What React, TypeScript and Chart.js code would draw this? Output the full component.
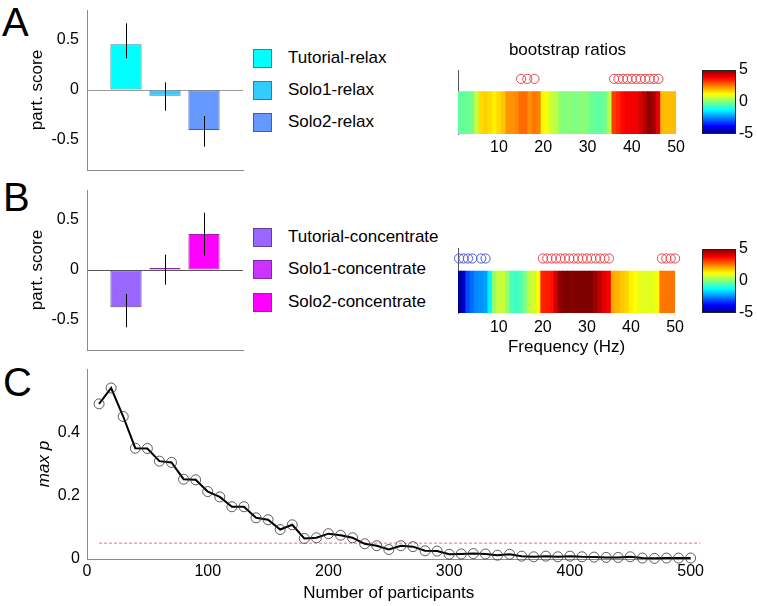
import React, { useEffect, useRef } from 'react';
import { Chart, registerables } from 'chart.js';

Chart.register(...registerables);

const FONT = 'Arial, "Liberation Sans", Helvetica, sans-serif';
Chart.defaults.font.family = FONT;
Chart.defaults.color = '#000';

// ---------- Panel A / B : participant scores ----------
const barPositions = [1, 2, 3];
const scoreTicks = [-0.5, 0, 0.5];

const relaxLabels = ['Tutorial-relax', 'Solo1-relax', 'Solo2-relax'];
const relaxScores = [0.457, -0.057, -0.4];
const relaxErrLow = [0.317, -0.207, -0.567];
const relaxErrHigh = [0.667, 0.077, -0.26];
const relaxColors = ['#00FFFF', '#33CCFF', '#6699FF'];
const relaxBorders = ['#1F8F8F', '#2C7FA3', '#3F5F9F'];

const concLabels = ['Tutorial-concentrate', 'Solo1-concentrate', 'Solo2-concentrate'];
const concScores = [-0.373, 0.02, 0.36];
const concErrLow = [-0.573, -0.147, 0.143];
const concErrHigh = [-0.24, 0.153, 0.573];
const concColors = ['#9966FF', '#CC33FF', '#FF00FF'];
const concBorders = ['#5F3FA0', '#7F2A9F', '#A0209F'];

// ---------- bootstrap ratios ----------
const freqs = [
  1, 2, 3, 4, 5, 6, 7, 8, 9, 10, 11, 12, 13, 14, 15, 16, 17, 18, 19, 20, 21, 22, 23, 24, 25,
  26, 27, 28, 29, 30, 31, 32, 33, 34, 35, 36, 37, 38, 39, 40, 41, 42, 43, 44, 45, 46, 47, 48, 49, 50,
];
const relaxRatios = [
  -0.3, -0.3, -0.2, -0.1, 0.7, 1.6, 1.7, 1.6, 1.4, 1.6, 1.8, 2.3, 2.3, 2.4, 2.7, 2.7, 2.35, 2.6, 2.5, 1.3,
  1.1, 0.7, 0.6, 0.1, 0.0, 0.1, 0.0, 0.0, 0.1, 0.0, -0.2, -0.3, -0.3, -0.1, 0.5, 3.2, 3.4, 3.7, 3.85, 3.9,
  3.9, 4.1, 4.5, 4.9, 4.6, 4.0, 1.9, 1.9, 1.9, 1.9,
];
const concRatios = [
  -4.8, -4.3, -3.0, -2.7, -2.4, -2.3, -2.2, -1.35, 0.2, 0.7, 0.7, 0.2, -0.5, -0.7, -0.5, 0.0, 0.6, 0.8, 1.2, 3.4,
  3.5, 3.6, 4.2, 4.8, 5.0, 5.0, 5.0, 5.0, 5.0, 5.0, 5.0, 4.7, 4.4, 4.0, 3.8, 2.1, 2.0, 1.8, 1.7, 1.4,
  1.25, 1.0, 0.95, 0.95, 1.0, 1.2, 2.6, 2.6, 2.6, 2.6,
];
const relaxSigPos = [15, 16.4, 18, 36, 37, 38, 39, 40, 41, 42, 43, 44, 45, 46];
const concSigNeg = [1, 2, 3, 4, 6, 7];
const concSigPos = [20, 21, 22, 23, 24, 25, 26, 27, 28, 29, 30, 31, 32, 33, 34, 35, 47, 48, 49, 50];
const freqTicks = [10, 20, 30, 40, 50];
const colorbarTicks = [-5, 0, 5];

// ---------- Panel C ----------
const participants = [
  10, 20, 30, 40, 50, 60, 70, 80, 90, 100, 110, 120, 130, 140, 150, 160, 170, 180, 190, 200, 210, 220, 230, 240, 250,
  260, 270, 280, 290, 300, 310, 320, 330, 340, 350, 360, 370, 380, 390, 400, 410, 420, 430, 440, 450, 460, 470, 480, 490, 500,
];
const maxP = [
  0.49, 0.54, 0.45, 0.35, 0.349, 0.309, 0.305, 0.252, 0.25, 0.213, 0.196, 0.165, 0.165, 0.13, 0.124, 0.093, 0.108, 0.065, 0.067, 0.08,
  0.075, 0.067, 0.048, 0.042, 0.03, 0.042, 0.039, 0.026, 0.025, 0.015, 0.016, 0.017, 0.016, 0.012, 0.015, 0.009, 0.007, 0.009, 0.007, 0.009,
  0.007, 0.006, 0.005, 0.005, 0.007, 0.003, 0.002, 0.003, 0.003, 0.003,
];
const threshold = 0.05;
const thresholdRange = [10, 508];
const participantTicks = [0, 100, 200, 300, 400, 500];
const maxPTicks = [0, 0.2, 0.4];

// ---------- helpers ----------
const clamp = (v: number) => Math.max(0, Math.min(1, v));
function jet(v: number): string {
  const n = clamp((v + 5) / 10);
  const r = clamp(Math.min(4 * n - 1.5, -4 * n + 4.5));
  const g = clamp(Math.min(4 * n - 0.5, -4 * n + 3.5));
  const b = clamp(Math.min(4 * n + 0.5, -4 * n + 2.5));
  return `rgb(${Math.round(r * 255)},${Math.round(g * 255)},${Math.round(b * 255)})`;
}

const font16 = { family: FONT, size: 16 };
const font17 = { family: FONT, size: 17 };

const errorBarPlugin = {
  id: 'errbars',
  afterDatasetsDraw(chart: any, _args: any, opts: any) {
    if (!opts || !opts.low) return;
    const { ctx } = chart;
    const xs = chart.scales.x;
    const ys = chart.scales.y;
    ctx.save();
    ctx.strokeStyle = '#000';
    ctx.lineWidth = 1;
    opts.xs.forEach((xv: number, i: number) => {
      const x = Math.round(xs.getPixelForValue(xv)) + 0.5;
      ctx.beginPath();
      ctx.moveTo(x, ys.getPixelForValue(opts.low[i]));
      ctx.lineTo(x, ys.getPixelForValue(opts.high[i]));
      ctx.stroke();
    });
    ctx.restore();
  },
};

const colorbarPlugin = {
  id: 'colorbar',
  beforeDatasetsDraw(chart: any, _args: any, opts: any) {
    if (!opts || !opts.on) return;
    const { ctx, chartArea: a } = chart;
    const ys = chart.scales.y;
    const g = ctx.createLinearGradient(0, a.bottom, 0, a.top);
    [0, 0.125, 0.375, 0.625, 0.875, 1].forEach((s) => g.addColorStop(s, jet(ys.min + s * (ys.max - ys.min))));
    ctx.save();
    ctx.fillStyle = g;
    ctx.fillRect(a.left, a.top, a.right - a.left, a.bottom - a.top);
    ctx.strokeStyle = '#222';
    ctx.lineWidth = 1;
    ctx.strokeRect(Math.round(a.left) + 0.5, Math.round(a.top) + 0.5, Math.round(a.right - a.left) - 1, Math.round(a.bottom - a.top) - 1);
    ctx.restore();
  },
};

function ChartBox({ left, top, width, height, make }: { left: number; top: number; width: number; height: number; make: () => any }) {
  const ref = useRef<HTMLCanvasElement>(null);
  useEffect(() => {
    const chart = new Chart(ref.current as HTMLCanvasElement, make());
    return () => chart.destroy();
  }, []);
  return (
    <canvas
      ref={ref}
      width={width}
      height={height}
      style={{ position: 'absolute', left, top, width, height }}
    />
  );
}

function scoreChart(scores: number[], low: number[], high: number[], colors: string[], borders: string[], zeroColor: string) {
  return {
    type: 'bar',
    data: {
      datasets: [
        {
          data: barPositions.map((x, i) => ({ x, y: scores[i] })),
          backgroundColor: colors,
          borderColor: borders,
          borderWidth: 1,
          borderSkipped: false,
          barPercentage: 0.8,
          categoryPercentage: 1,
        },
      ],
    },
    options: {
      responsive: false,
      animation: false,
      layout: { padding: { left: 0, right: 2, top: 20, bottom: 20 } },
      plugins: { legend: { display: false }, tooltip: { enabled: false }, errbars: { xs: barPositions, low, high } },
      scales: {
        x: {
          type: 'linear',
          offset: false,
          min: 0,
          max: 4,
          grid: { display: false, drawTicks: false },
          border: { display: true, color: '#8a8a8a' },
          ticks: { display: false },
          afterFit: (s: any) => { s.height = 0; },
        },
        y: {
          min: -0.8,
          max: 0.8,
          afterBuildTicks: (s: any) => { s.ticks = scoreTicks.map((v) => ({ value: v })); },
          ticks: { font: font16, color: '#000', padding: 8, callback: (v: any) => (v === 0 ? '0' : String(v)) },
          grid: {
            display: true,
            drawTicks: false,
            lineWidth: 1,
            color: (c: any) => (c.tick && c.tick.value === 0 ? zeroColor : 'rgba(0,0,0,0)'),
          },
          border: { display: true, color: '#8a8a8a' },
          title: { display: true, text: 'part. score', font: font17, color: '#000', padding: { top: 27, bottom: 0 } },
          afterFit: (s: any) => { s.width = 87; },
        },
      },
    },
    plugins: [errorBarPlugin],
  };
}

function heatChart(ratios: number[], sigGroups: { f: number[]; color: string }[], ymax: number, title: string | null, xTitle: string | null, tickPad: number, topPad: number) {
  const circleSets = sigGroups.map((g) => ({
    type: 'scatter',
    data: g.f.map((f) => ({ x: f, y: 1.3 })),
    pointStyle: 'circle',
    pointRadius: 4.6,
    borderColor: g.color,
    backgroundColor: 'rgba(0,0,0,0)',
    borderWidth: 1,
    clip: false,
    order: 0,
  }));
  return {
    type: 'bar',
    data: {
      datasets: [
        ...circleSets,
        {
          type: 'bar',
          data: freqs.map((f) => ({ x: f, y: [0, 1] })),
          backgroundColor: ratios.map(jet),
          borderWidth: 0,
          barPercentage: 1,
          categoryPercentage: 1,
          grouped: false,
          order: 1,
        },
      ],
    },
    options: {
      responsive: false,
      animation: false,
      layout: { padding: { left: 18, right: 12, top: topPad, bottom: 0 } },
      plugins: {
        legend: { display: false },
        tooltip: { enabled: false },
        title: title
          ? { display: true, text: title, font: { family: FONT, size: 17, weight: 'normal' }, color: '#000', padding: { top: 10, bottom: 10 } }
          : { display: false },
      },
      scales: {
        x: {
          type: 'linear',
          offset: false,
          min: 0.75,
          max: 50,
          afterBuildTicks: (s: any) => { s.ticks = freqTicks.map((v) => ({ value: v })); },
          grid: { display: false, drawTicks: false },
          border: { display: false },
          ticks: { font: font16, color: '#000', padding: tickPad },
          title: xTitle
            ? { display: true, text: xTitle, font: font17, color: '#000', padding: { top: 0, bottom: 5 } }
            : { display: false },
          afterFit: (s: any) => { s.height = xTitle ? 50 : 30; },
        },
        y: {
          min: 0,
          max: ymax,
          grid: { display: false, drawTicks: false },
          border: { display: true, color: '#555' },
          ticks: { display: false },
          afterFit: (s: any) => { s.width = 0; },
        },
      },
    },
  };
}

function colorbarChart() {
  return {
    type: 'bar',
    data: { datasets: [] },
    options: {
      responsive: false,
      animation: false,
      layout: { padding: { left: 7, right: 0, top: 14, bottom: 14 } },
      plugins: { legend: { display: false }, tooltip: { enabled: false }, colorbar: { on: true } },
      scales: {
        x: { display: false },
        y: {
          position: 'right',
          min: -5,
          max: 5,
          afterBuildTicks: (s: any) => { s.ticks = colorbarTicks.map((v) => ({ value: v })); },
          grid: { display: false, drawTicks: false },
          border: { display: false },
          ticks: { font: font16, color: '#000', padding: 3 },
          afterFit: (s: any) => { s.width = 20; },
        },
      },
    },
    plugins: [colorbarPlugin],
  };
}

function maxPChart() {
  return {
    type: 'line',
    data: {
      datasets: [
        {
          data: participants.map((x, i) => ({ x, y: maxP[i] })),
          borderColor: '#000',
          borderWidth: 2,
          tension: 0,
          pointRadius: 5,
          pointBorderWidth: 0.8,
          pointBorderColor: '#333',
          pointBackgroundColor: 'rgba(0,0,0,0)',
          clip: false,
          order: 1,
        },
        {
          data: thresholdRange.map((x) => ({ x, y: threshold })),
          borderColor: '#F07070',
          borderWidth: 1,
          borderDash: [3, 2],
          pointRadius: 0,
          clip: false,
          order: 2,
        },
      ],
    },
    options: {
      responsive: false,
      animation: false,
      layout: { padding: { left: 0, right: 15, top: 17, bottom: 0 } },
      plugins: { legend: { display: false }, tooltip: { enabled: false } },
      scales: {
        x: {
          type: 'linear',
          min: 0,
          max: 500,
          afterBuildTicks: (s: any) => { s.ticks = participantTicks.map((v) => ({ value: v })); },
          grid: { display: false, drawTicks: false },
          border: { display: true, color: '#8a8a8a' },
          ticks: { font: font16, color: '#000', padding: 3 },
          title: { display: true, text: 'Number of participants', font: font17, color: '#000', padding: { top: 0, bottom: 2 } },
          afterFit: (s: any) => { s.height = 47; },
        },
        y: {
          min: 0,
          max: 0.6,
          afterBuildTicks: (s: any) => { s.ticks = maxPTicks.map((v) => ({ value: v })); },
          grid: { display: false, drawTicks: false },
          border: { display: true, color: '#8a8a8a' },
          ticks: { font: font16, color: '#000', padding: 7, callback: (v: any) => (v === 0 ? '0' : Number(v).toFixed(1)) },
          title: { display: true, text: 'max p', font: { family: FONT, size: 17, style: 'italic' }, color: '#000', padding: { top: 34, bottom: 0 } },
          afterFit: (s: any) => { s.width = 87; },
        },
      },
    },
  };
}

function Legend({ labels, colors, borders, rows }: { labels: string[]; colors: string[]; borders: string[]; rows: number[] }) {
  return (
    <>
      {labels.map((l, i) => (
        <div
          key={l}
          style={{ position: 'absolute', left: 253, top: rows[i] - 12, height: 24, display: 'flex', alignItems: 'center', whiteSpace: 'nowrap' }}
        >
          <div style={{ width: 19, height: 19, background: colors[i], border: `1px solid ${borders[i]}`, boxSizing: 'border-box' }} />
          <span style={{ marginLeft: 16, font: `17px ${FONT}`, color: '#000' }}>{l}</span>
        </div>
      ))}
    </>
  );
}

const letterStyle = (left: number, top: number): React.CSSProperties => ({
  position: 'absolute',
  left,
  top,
  font: `40px ${FONT}`,
  lineHeight: 1,
  color: '#000',
});

export default function App() {
  return (
    <div style={{ position: 'absolute', left: 0, top: 0, width: 757, height: 606, background: '#fff', overflow: 'hidden' }}>
      <div style={letterStyle(2, 2)}>A</div>
      <div style={letterStyle(3, 177)}>B</div>
      <div style={letterStyle(3, 362)}>C</div>

      <ChartBox left={0} top={-10} width={245} height={200} make={() => scoreChart(relaxScores, relaxErrLow, relaxErrHigh, relaxColors, relaxBorders, '#9a9a9a')} />
      <ChartBox left={0} top={170} width={245} height={200} make={() => scoreChart(concScores, concErrLow, concErrHigh, concColors, concBorders, '#555')} />

      <Legend labels={relaxLabels} colors={relaxColors} borders={relaxBorders} rows={[58, 90, 122]} />
      <Legend labels={concLabels} colors={concColors} borders={concBorders} rows={[237, 269, 302]} />

      <ChartBox
        left={440}
        top={30}
        width={249}
        height={134}
        make={() => heatChart(relaxRatios, [{ f: relaxSigPos, color: '#E5484D' }], 1.5, 'bootstrap ratios', null, 4, 0)}
      />
      <ChartBox
        left={440}
        top={240}
        width={249}
        height={123}
        make={() =>
          heatChart(concRatios, [{ f: concSigNeg, color: '#4B5BD6' }, { f: concSigPos, color: '#E5484D' }], 1.55, null, 'Frequency (Hz)', 5, 8)
        }
      />

      <ChartBox left={695} top={56} width={61} height={92} make={colorbarChart} />
      <ChartBox left={695} top={235} width={61} height={92} make={colorbarChart} />

      <ChartBox left={0} top={352} width={707} height={254} make={maxPChart} />
    </div>
  );
}
